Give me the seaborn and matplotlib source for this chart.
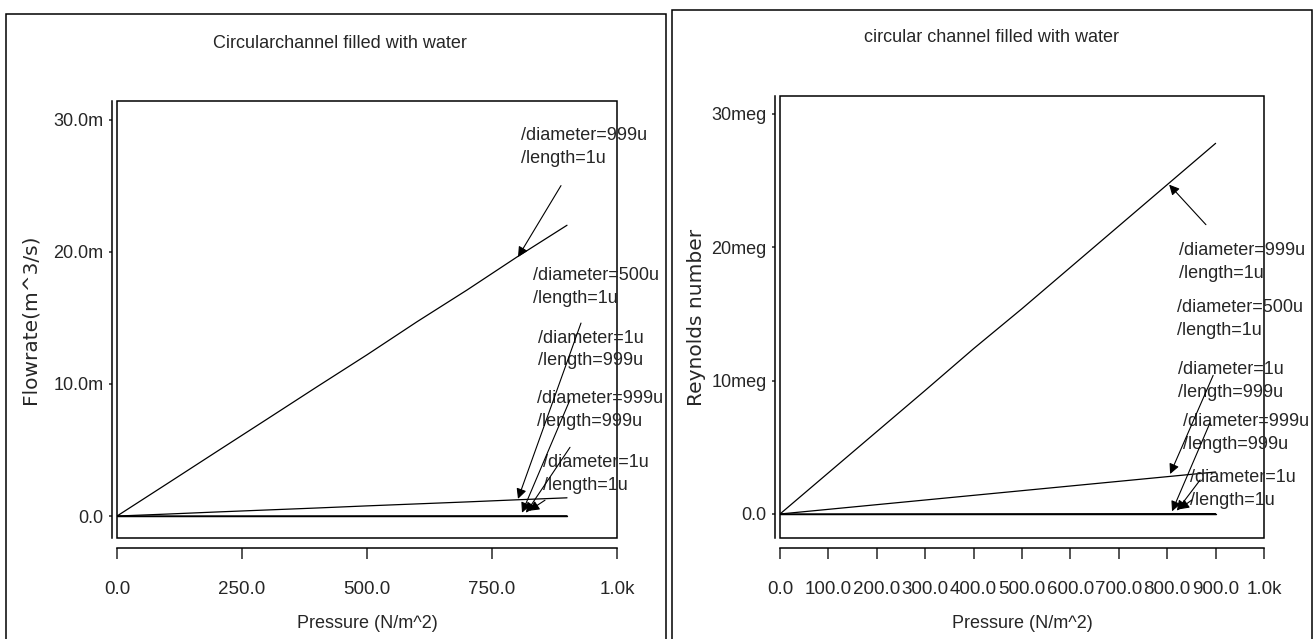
import seaborn as sns
import matplotlib.pyplot as plt
import pandas as pd
from matplotlib.patches import Rectangle

# sweep of the applied pressure (N/m^2)
pressure = [0, 100, 200, 300, 400, 500, 600, 700, 800, 900]

# flowrate (m^3/s)
flow_d999_l1 = [0, 2.44e-3, 4.89e-3, 7.33e-3, 9.78e-3, 12.2e-3, 14.7e-3, 17.1e-3, 19.6e-3, 22.0e-3]
flow_d500_l1 = [0, 0.15e-3, 0.31e-3, 0.46e-3, 0.61e-3, 0.77e-3, 0.92e-3, 1.07e-3, 1.23e-3, 1.38e-3]
flow_d1_l999 = [0, 0, 0, 0, 0, 0, 0, 0, 0, 0]
flow_d999_l999 = [0, 2.4e-6, 4.9e-6, 7.3e-6, 9.8e-6, 12.2e-6, 14.7e-6, 17.1e-6, 19.6e-6, 22.0e-6]
flow_d1_l1 = [0, 0, 0, 0, 0, 0, 0, 0, 0, 0]

# Reynolds number
re_d999_l1 = [0, 3.09e6, 6.18e6, 9.27e6, 12.4e6, 15.4e6, 18.5e6, 21.6e6, 24.7e6, 27.8e6]
re_d500_l1 = [0, 0.35e6, 0.70e6, 1.05e6, 1.40e6, 1.75e6, 2.10e6, 2.45e6, 2.80e6, 3.15e6]
re_d1_l999 = [0, 0, 0, 0, 0, 0, 0, 0, 0, 0]
re_d999_l999 = [0, 3.1e3, 6.2e3, 9.3e3, 12.4e3, 15.4e3, 18.5e3, 21.6e3, 24.7e3, 27.8e3]
re_d1_l1 = [0, 0, 0, 0, 0, 0, 0, 0, 0, 0]

geometries = [
    "/diameter=999u\n/length=1u",
    "/diameter=500u\n/length=1u",
    "/diameter=1u\n/length=999u",
    "/diameter=999u\n/length=999u",
    "/diameter=1u\n/length=1u",
]

flow_xticks = [0, 250, 500, 750, 1000]
flow_xticklabels = ["0.0", "250.0", "500.0", "750.0", "1.0k"]
flow_yticks = [0, 10e-3, 20e-3, 30e-3]
flow_yticklabels = ["0.0", "10.0m", "20.0m", "30.0m"]

re_xticks = [0, 100, 200, 300, 400, 500, 600, 700, 800, 900, 1000]
re_xticklabels = ["0.0", "100.0", "200.0", "300.0", "400.0", "500.0",
                  "600.0", "700.0", "800.0", "900.0", "1.0k"]
re_yticks = [0, 10e6, 20e6, 30e6]
re_yticklabels = ["0.0", "10meg", "20meg", "30meg"]


def long_frame(series):
    rows = []
    for name, vals in zip(geometries, series):
        for p, v in zip(pressure, vals):
            rows.append({"pressure": p, "value": v, "geometry": name})
    return pd.DataFrame(rows)


W, H = 1315, 639
FONT = ["Liberation Sans", "DejaVu Sans"]

sns.set_style("white")
plt.rcParams["font.family"] = FONT

fig = plt.figure(figsize=(W / 100, H / 100), dpi=100)


def px_box(x0, y0, x1, y1):
    # pixel box (top-left origin) -> figure fraction rect
    return [x0 / W, 1 - y1 / H, (x1 - x0) / W, (y1 - y0) / H]


def style_axes(ax, xticks, xlabels, yticks, ylabels, ylabel, ylabel_x):
    for s in ["top", "right"]:
        ax.spines[s].set_visible(False)
    ax.spines["left"].set_position(("outward", 3.6))
    ax.spines["bottom"].set_position(("outward", 7))
    for s in ["left", "bottom"]:
        ax.spines[s].set_linewidth(1.1)
        ax.spines[s].set_color("black")
    ax.add_patch(Rectangle((0, 0), 1, 1, transform=ax.transAxes, fill=False,
                           lw=1.1, ec="black", clip_on=False, zorder=2.6))
    ax.set_xticks(xticks)
    ax.set_xticklabels(xlabels, fontsize=13.5)
    ax.set_yticks(yticks)
    ax.set_yticklabels(ylabels, fontsize=13)
    ax.tick_params(axis="x", direction="out", length=8, width=1.1, pad=16, bottom=True)
    ax.tick_params(axis="y", direction="out", length=2.2, width=1.1, pad=4, left=True)
    ax.set_xlabel("Pressure (N/m^2)", fontsize=13, labelpad=12)
    ax.set_ylabel(ylabel, fontsize=14.5, family="DejaVu Sans")
    ax.yaxis.set_label_coords(ylabel_x, 0.5)
    ax.grid(False)


def annotate(ax, labels, arrows):
    for text, (tx, ty) in zip(geometries, labels):
        ax.text(tx, ty, text, fontsize=13, ha="left", va="center",
                linespacing=1.45, clip_on=False, zorder=3)
    for (sx, sy), (ex, ey) in arrows:
        ax.annotate("", xy=(ex, ey), xytext=(sx, sy), annotation_clip=False,
                    arrowprops=dict(arrowstyle="-|>", color="black", lw=0.8,
                                    mutation_scale=15, shrinkA=0, shrinkB=0))


# ---- left: flowrate
ax1 = fig.add_axes(px_box(117, 101, 617, 538))
df1 = long_frame([flow_d999_l1, flow_d500_l1, flow_d1_l999, flow_d999_l999, flow_d1_l1])
sns.lineplot(data=df1, x="pressure", y="value", hue="geometry",
             palette=["black"] * 5, legend=False, linewidth=0.9, ax=ax1)
ax1.set_xlim(0, 1000)
ax1.set_ylim(-1.66e-3, 31.4e-3)
style_axes(ax1, flow_xticks, flow_xticklabels, flow_yticks, flow_yticklabels,
           "Flowrate(m^3/s)", -0.154)
annotate(ax1,
         [(808, 27.9e-3), (832, 17.35e-3), (842, 12.6e-3), (840, 8.05e-3), (852, 3.2e-3)],
         [((888, 25.0e-3), (802, 19.6e-3)),
          ((928, 14.6e-3), (802, 1.3e-3)),
          ((906, 8.8e-3), (810, 0.25e-3)),
          ((906, 5.2e-3), (818, 0.25e-3)),
          ((856, 1.2e-3), (824, 0.4e-3))])

# ---- right: Reynolds number
ax2 = fig.add_axes(px_box(780, 96, 1264, 538))
df2 = long_frame([re_d999_l1, re_d500_l1, re_d1_l999, re_d999_l999, re_d1_l1])
sns.lineplot(data=df2, x="pressure", y="value", hue="geometry",
             palette=["black"] * 5, legend=False, linewidth=0.9, ax=ax2)
ax2.set_xlim(0, 1000)
ax2.set_ylim(-1.8e6, 31.35e6)
style_axes(ax2, re_xticks, re_xticklabels, re_yticks, re_yticklabels,
           "Reynolds number", -0.153)
annotate(ax2,
         [(824, 18.9e6), (820, 14.6e6), (822, 9.95e6), (833, 6.05e6), (847, 1.9e6)],
         [((880, 21.7e6), (804, 24.7e6)),
          ((895, 10.4e6), (806, 3.0e6)),
          ((888, 6.8e6), (810, 0.2e6)),
          ((868, 2.55e6), (820, 0.25e6)),
          ((851, 1.05e6), (824, 0.35e6))])

# panel titles and frames
fig.text(340 / W, 1 - 43 / H, "Circularchannel filled with water",
         fontsize=13, ha="center", va="center")
fig.text(992 / W, 1 - 38 / H, "circular channel filled with water",
         fontsize=13, ha="center", va="center")
fig.add_artist(Rectangle((6 / W, -0.02), 660 / W, 1 - 14 / H + 0.02,
                         transform=fig.transFigure, fill=False, lw=1.1, ec="black"))
fig.add_artist(Rectangle((672 / W, -0.02), 640 / W, 1 - 10 / H + 0.02,
                         transform=fig.transFigure, fill=False, lw=1.1, ec="black"))

fig.savefig("out.png", dpi=100)
